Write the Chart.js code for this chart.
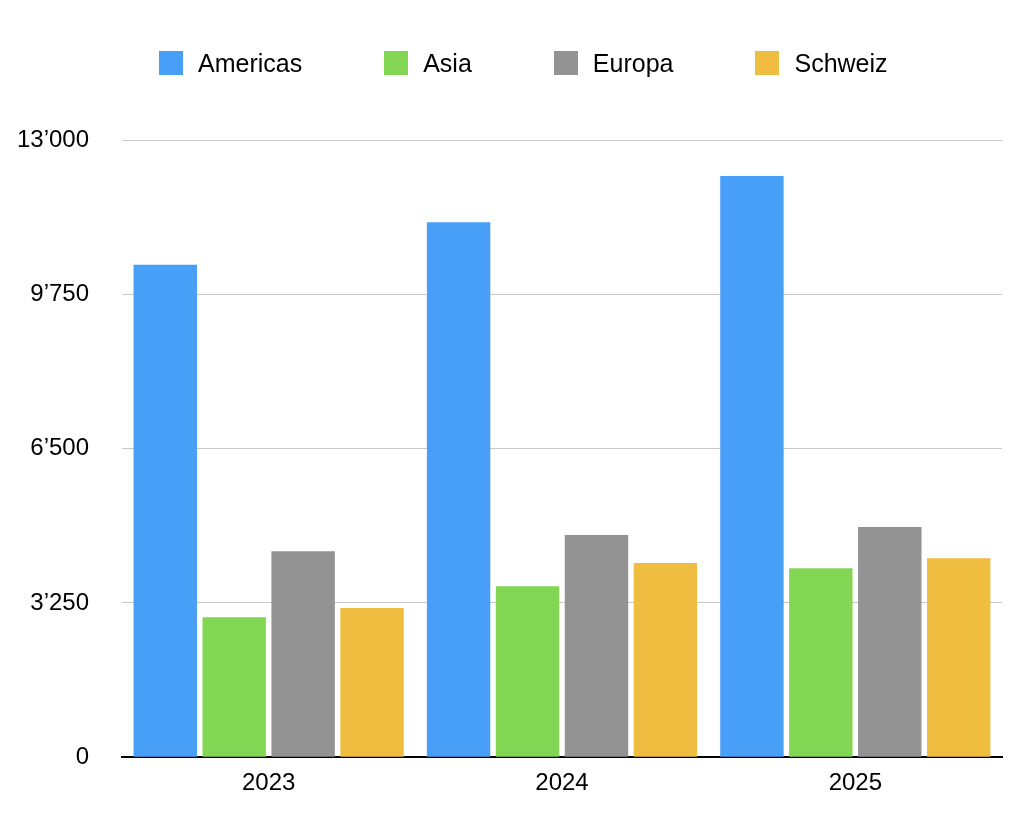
<!DOCTYPE html>
<html>
<head>
<meta charset="utf-8">
<script src="https://cdn.jsdelivr.net/npm/chart.js@4"></script>
<style>
    html, body { margin: 0; padding: 0; background: #fff; }
    #wrap { position: relative; width: 1020px; height: 818px; }
    #legend {
        position: absolute; left: 159px; top: 51px;
        display: flex; gap: 82px;
        font-family: "Liberation Sans", Arial, sans-serif; font-size: 25px; color: #000;
    }
    .legend-item { display: flex; align-items: center; height: 24px; }
    .legend-box { width: 24px; height: 24px; margin-right: 15px; }
</style>
</head>
<body>
<div id="wrap">
    <canvas id="bar-chart" width="1020" height="818"></canvas>
    <div id="legend"></div>
</div>
<script>
const years = ["2023", "2024", "2025"];
const americas = [10370, 11270, 12240];
const asia = [2950, 3600, 3980];
const europa = [4340, 4680, 4850];
const schweiz = [3140, 4090, 4190];
const yTicks = [0, 3250, 6500, 9750, 13000];

const seriesNames = ["Americas", "Asia", "Europa", "Schweiz"];
const seriesColors = ["#479ff8", "#82d654", "#939393", "#efbd40"];

function swissNumber(v) {
    return String(v).replace(/\B(?=(\d{3})+(?!\d))/g, "\u2019");
}

document.addEventListener('DOMContentLoaded', function() {
    Chart.defaults.font.family = "'Liberation Sans', Arial, sans-serif";
    Chart.defaults.font.size = 24;
    Chart.defaults.color = "#000";

    const seriesData = [americas, asia, europa, schweiz];
    const datasets = seriesNames.map(function(name, i) {
        return {
            label: name,
            data: seriesData[i],
            backgroundColor: seriesColors[i],
            borderWidth: 0,
            categoryPercentage: 0.94,
            barPercentage: 0.92,
        };
    });

    var Charts = new Chart(document.getElementById("bar-chart"), {
        type: "bar",
        data: { labels: years, datasets: datasets },
        options: {
            responsive: false,
            animation: false,
            layout: { padding: { top: 140, left: 15, right: 18, bottom: 8 } },
            plugins: {
                legend: { display: false },
                tooltip: { enabled: false },
            },
            scales: {
                x: {
                    grid: { display: false, drawTicks: false },
                    border: { display: true, color: "#000", width: 2 },
                    ticks: { padding: 12 },
                },
                y: {
                    min: 0,
                    max: 13000,
                    afterBuildTicks: function(axis) {
                        axis.ticks = yTicks.map(function(v) { return { value: v }; });
                    },
                    afterFit: function(axis) {
                        axis.width = 107;
                    },
                    grid: { color: "#c8c8c8", lineWidth: 1, drawTicks: false },
                    border: { display: false },
                    ticks: {
                        padding: 33,
                        callback: function(v) { return swissNumber(v); },
                    },
                },
            },
        },
    });

    // html legend
    const legend = document.getElementById("legend");
    Charts.data.datasets.forEach(function(ds) {
        const item = document.createElement("div");
        item.className = "legend-item";
        const box = document.createElement("span");
        box.className = "legend-box";
        box.style.background = ds.backgroundColor;
        const text = document.createElement("span");
        text.textContent = ds.label;
        item.appendChild(box);
        item.appendChild(text);
        legend.appendChild(item);
    });
});
</script>
</body>
</html>
